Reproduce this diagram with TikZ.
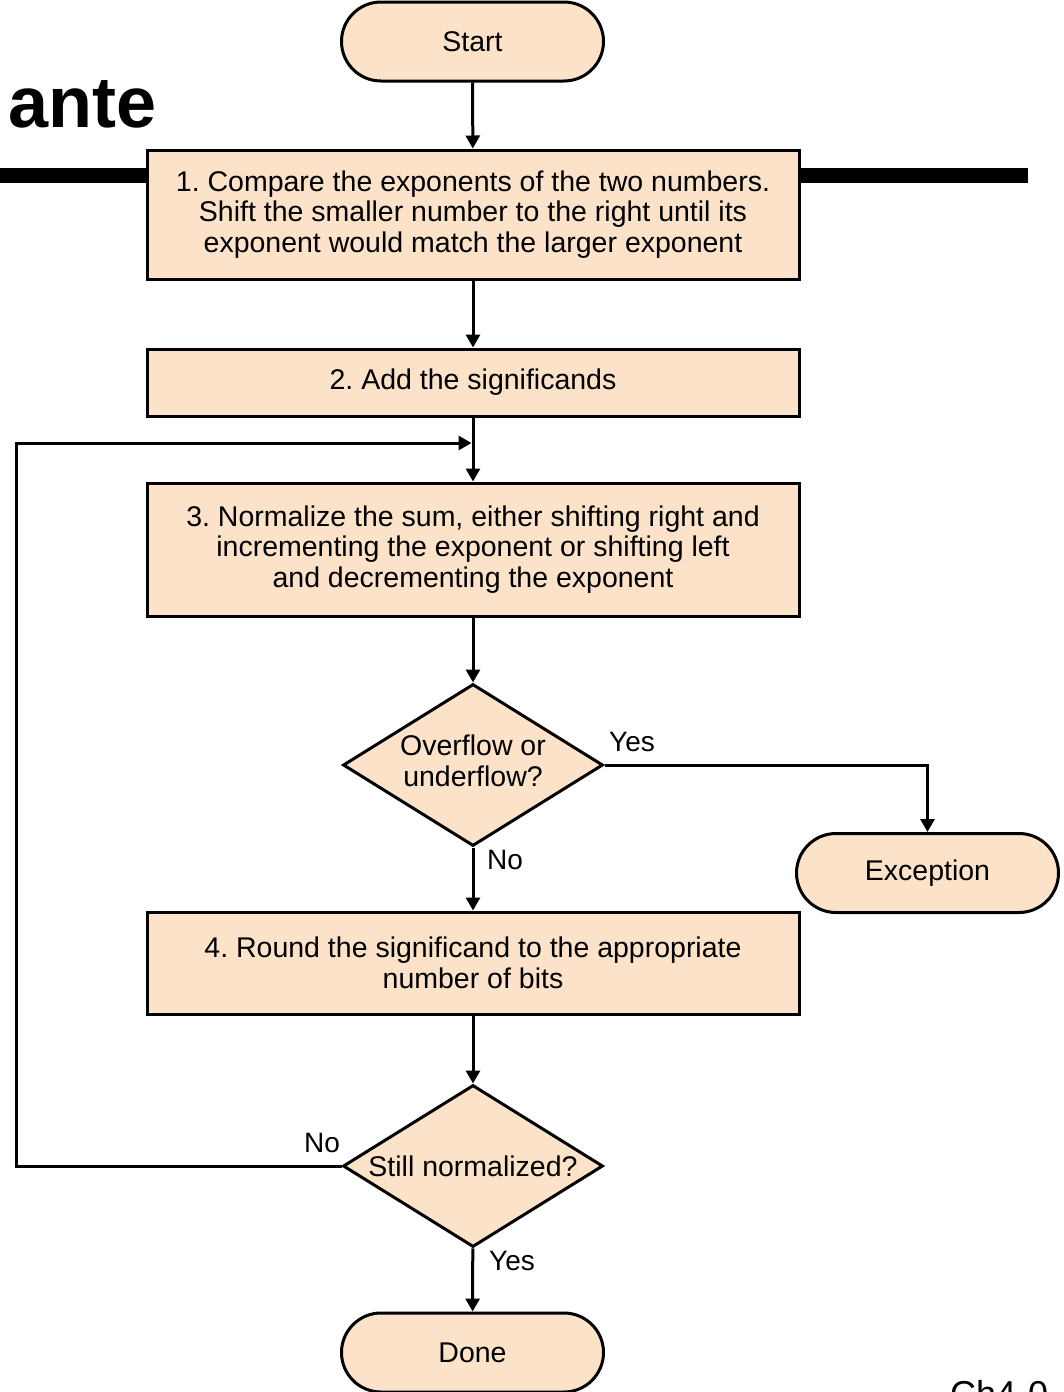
\documentclass[tikz,border=0pt]{standalone}
\usepackage{fontspec}
\setmainfont{Liberation Sans}
\usetikzlibrary{shapes.geometric,shapes.misc,arrows.meta}
\definecolor{peach}{RGB}{252,226,201}
\frenchspacing
\begin{document}
\begin{tikzpicture}[x=1pt,y=-1pt,
  every node/.style={font=\fontsize{28.5}{30.5}\selectfont},
  term/.style={draw,line width=3pt,fill=peach,rounded rectangle,minimum width=262pt,minimum height=79pt,inner sep=0pt},
  procbox/.style={draw,line width=3pt,fill=peach,minimum width=652pt,align=center,inner sep=0pt},
  dia/.style={draw,line width=3pt,fill=peach,diamond,minimum width=260pt,minimum height=162pt,inner sep=0pt},
  conn/.style={line width=3pt,-{Triangle[length=13pt,width=14pt]}},
  lbl/.style={font=\fontsize{28}{30}\selectfont,inner sep=0pt}]
\useasboundingbox (0,0) rectangle (1063,1392);
% heading rule and title
\draw[line width=15pt] (0,175.5) -- (1028,175.5);
\node[anchor=base east,font=\bfseries\fontsize{72}{76}\selectfont,inner sep=0pt] (title) at (157,127) {ante};
% nodes
\node[term] (start) at (472.5,41.5) {Start};
\node[procbox,minimum height=129pt] (b1) at (473,214.5) {1. Compare the exponents of the two numbers.\\Shift the smaller number to the right until its\\exponent would match the larger exponent};
\node[procbox,minimum height=67pt] (b2) at (473,382.5) {2. Add the significands};
\node[procbox,minimum height=133pt] (b3) at (473,549.5) {3. Normalize the sum, either shifting right and\\incrementing the exponent or shifting left\\and decrementing the exponent};
\node[dia] (d1) at (473,765) {\makebox[0pt]{\begin{tabular}{@{}c@{}}Overflow or\\underflow?\end{tabular}}};
\node[term] (exc) at (927.5,873) {Exception};
\node[procbox,minimum height=102pt] (b4) at (473,963) {4. Round the significand to the appropriate\\number of bits};
\node[dia] (d2) at (473,1166) {\makebox[0pt]{Still normalized?}};
\node[term] (done) at (472.5,1352.5) {Done};
% labels
\node[lbl] (yes1) at (632,742) {Yes};
\node[lbl] (no1) at (505,860) {No};
\node[lbl] (no2) at (322,1143) {No};
\node[lbl] (yes2) at (512,1261) {Yes};
\node[anchor=north west,font=\fontsize{36}{40}\selectfont,inner sep=0pt] (ch) at (950,1380) {Ch4-0};
% connectors
\coordinate (loopin) at (471.5,443);
\coordinate (loopcorner) at (16,1166);
\draw[conn] (start) -- (b1);
\draw[conn] (b1) -- (b2);
\draw[conn] (b2) -- (b3);
\draw[conn] (b3) -- (d1);
\draw[conn] (d1) -- (b4);
\draw[conn] (b4) -- (d2);
\draw[conn] (d2) -- (done);
\draw[conn] (d1.east) -| (exc.north);
\draw[conn] (d2.west) -- (loopcorner) |- (loopin);
\end{tikzpicture}
\end{document}
